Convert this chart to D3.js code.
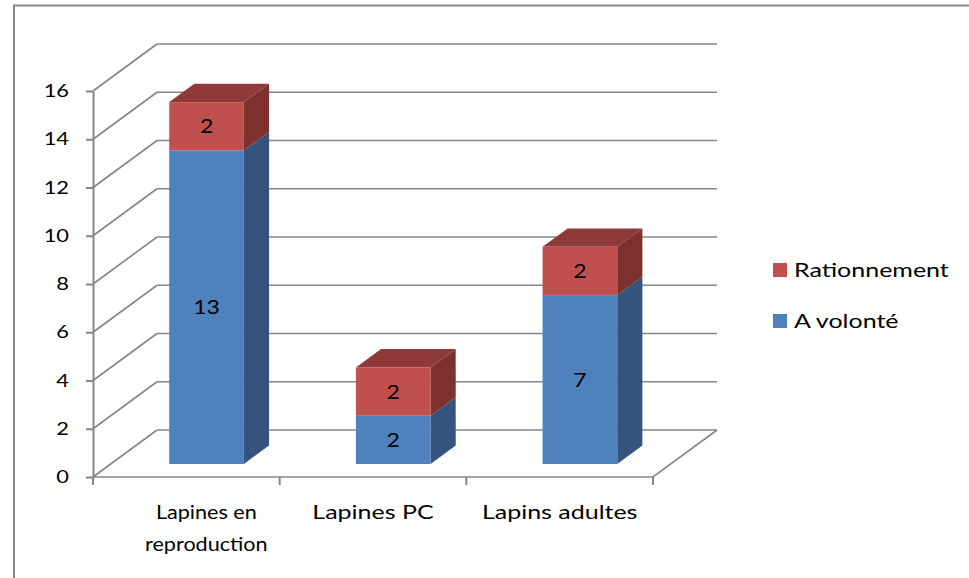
<!DOCTYPE html>
<html>
<head>
<meta charset="utf-8">
<script src="https://cdn.jsdelivr.net/npm/d3@7"></script>
<style>
  body { margin: 0; background: #fff; }
  text { font-family: Lato, "Open Sans", sans-serif; fill: #000; }
</style>
</head>
<body>
<script>
// data
const categories = ["Lapines en reproduction", "Lapines PC", "Lapins adultes"];
const seriesNames = ["A volonté", "Rationnement"];
const aVolonte = [13, 2, 7];
const rationnement = [2, 2, 2];
const yTicks = [0, 2, 4, 6, 8, 10, 12, 14, 16];

const width = 969, height = 578;
const colors = {
  "A volonté": { front: "#4f81bd", side: "#34547d", top: "#3f6797" },
  "Rationnement": { front: "#c0504d", side: "#7d302e", top: "#8e3a38" }
};

// text in the original is a bit wider than tall
const stretch = 1.25;

// depth of the 3d box (oblique projection)
const DX = 64, DY = -47;
const zFront = 0.277, zBack = 0.67;

const svg = d3.select("body").append("svg")
  .attr("width", width)
  .attr("height", height);

// helper: stretched text placed at (px, py)
function addText(g, px, py, str, size, anchor, sx) {
  return g.append("text")
    .attr("transform", `translate(${px},${py}) scale(${sx || stretch},1)`)
    .attr("text-anchor", anchor || "middle")
    .style("font-size", size + "px")
    .text(str);
}

// outer frame (only left and top visible)
svg.append("path")
  .attr("d", "M14,578 L14,5.5 L969,5.5")
  .attr("fill", "none")
  .attr("stroke", "#888")
  .attr("stroke-width", 2);

const x = d3.scaleBand().domain(categories).range([93, 653]);
const y = d3.scaleLinear().domain([0, 16]).range([477, 91]);

const xLeft = x.range()[0], xRight = x.range()[1];

// back wall gridlines + side wall diagonals
const grid = svg.append("g").attr("stroke", "#868686").attr("stroke-width", 1.6).attr("fill", "none");
grid.selectAll(".back")
  .data(yTicks)
  .enter().append("line")
  .attr("x1", xLeft + DX).attr("x2", xRight + DX)
  .attr("y1", d => y(d) + DY).attr("y2", d => y(d) + DY);
grid.selectAll(".side")
  .data(yTicks)
  .enter().append("line")
  .attr("x1", xLeft).attr("x2", xLeft + DX)
  .attr("y1", d => y(d)).attr("y2", d => y(d) + DY);

// floor
grid.append("path")
  .attr("d", `M${xLeft},${y(0)} L${xRight},${y(0)} L${xRight + DX},${y(0) + DY}`);

// y axis
const yAxis = svg.append("g")
  .attr("transform", `translate(${xLeft},0)`)
  .call(d3.axisLeft(y).tickValues(yTicks).tickSize(7).tickSizeOuter(0).tickPadding(17));
yAxis.select(".domain").attr("stroke", "#868686").attr("stroke-width", 2);
yAxis.selectAll(".tick line").attr("stroke", "#868686").attr("stroke-width", 2);
yAxis.selectAll(".tick text")
  .attr("x", null)
  .attr("transform", `translate(-24,0) scale(${stretch},1)`)
  .style("font-family", "Lato, sans-serif")
  .style("font-size", "17.5px")
  .attr("fill", "#000");

// x axis ticks at band edges
const edges = categories.map(c => x(c)).concat([xRight]);
svg.append("g").selectAll("line")
  .data(edges)
  .enter().append("line")
  .attr("x1", d => d).attr("x2", d => d)
  .attr("y1", y(0)).attr("y2", y(0) + 8)
  .attr("stroke", "#868686").attr("stroke-width", 2);

// x labels
const labelLines = [["Lapines en", "reproduction"], ["Lapines PC"], ["Lapins adultes"]];
const xl = svg.append("g");
categories.forEach((c, i) => {
  const cx = x(c) + x.bandwidth() / 2 + (i === 0 ? 20 : 0);
  labelLines[i].forEach((t, j) => {
    addText(xl, cx, 519 + j * 32, t, 20, "middle", i === 0 ? 1.08 : stretch);
  });
});

// stacked bars
const table = categories.map((c, i) => ({ cat: c, "A volonté": aVolonte[i], "Rationnement": rationnement[i] }));
const stacked = d3.stack().keys(seriesNames)(table);

const barW = x.bandwidth() * 0.4;
const bars = svg.append("g");
const labels = svg.append("g");

table.forEach((row, i) => {
  const cx = x(row.cat) + x.bandwidth() / 2 + 2.5;
  stacked.forEach((s, k) => {
    const d = s[i];
    const col = colors[s.key];
    const x0 = cx - barW / 2 + zFront * DX, x1 = cx + barW / 2 + zFront * DX;
    const yb = y(d[0]) + zFront * DY, yt = y(d[1]) + zFront * DY;
    const ddx = (zBack - zFront) * DX, ddy = (zBack - zFront) * DY;
    // side
    bars.append("polygon")
      .attr("points", [[x1, yb], [x1 + ddx, yb + ddy], [x1 + ddx, yt + ddy], [x1, yt]].join(" "))
      .attr("fill", col.side);
    // top (only visible on last segment)
    if (k === stacked.length - 1) {
      bars.append("polygon")
        .attr("points", [[x0, yt], [x0 + ddx, yt + ddy], [x1 + ddx, yt + ddy], [x1, yt]].join(" "))
        .attr("fill", col.top);
    }
    // front
    bars.append("rect")
      .attr("x", x0).attr("y", yt)
      .attr("width", x1 - x0).attr("height", yb - yt)
      .attr("fill", col.front);
    addText(labels, (x0 + x1) / 2, (yt + yb) / 2 + 7, d[1] - d[0], 20, "middle", 1.15);
  });
});

// legend
const legend = svg.append("g");
const legendItems = seriesNames.slice().reverse();
legend.selectAll("rect")
  .data(legendItems)
  .enter().append("rect")
  .attr("x", 773).attr("y", (d, i) => 263 + i * 51)
  .attr("width", 14).attr("height", 14)
  .attr("fill", d => colors[d].front);
legendItems.forEach((d, i) => addText(legend, 794, 277 + i * 51, d, 20, "start"));
</script>
</body>
</html>
